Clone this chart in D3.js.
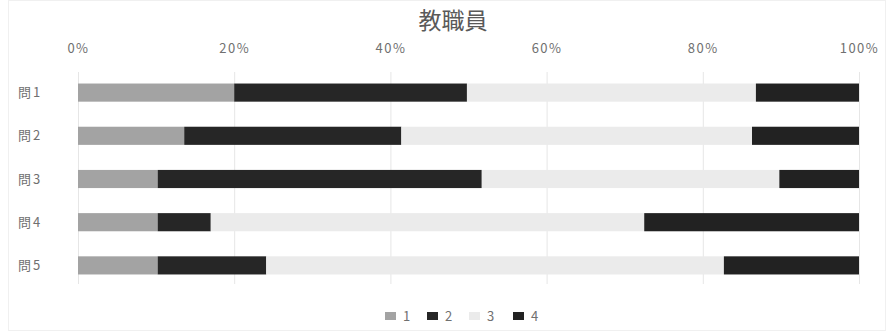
<!DOCTYPE html>
<html>
<head>
<meta charset="utf-8">
<script src="https://cdn.jsdelivr.net/npm/d3@7"></script>
<style>
  body { margin: 0; background: #fff; }
  svg { display: block; font-family: "Noto Sans CJK JP", "DejaVu Sans", sans-serif; }
</style>
</head>
<body>
<div class="chart"></div>
<script>
// categories and series (percent)
var categories = ["問1", "問2", "問3", "問4", "問5"];
var seriesNames = ["1", "2", "3", "4"];
var s1 = [20.0, 13.6, 10.2, 10.2, 10.2];
var s2 = [29.8, 27.8, 41.5, 6.8, 13.9];
var s3 = [37.0, 44.9, 38.1, 55.5, 58.6];
var s4 = [13.2, 13.7, 10.2, 27.5, 17.3];
var tickValues = [0, 0.2, 0.4, 0.6, 0.8, 1];
var colors = ["#a3a3a3", "#262626", "#ebebeb", "#222222"];

var width = 894, height = 331;
var margin = {top: 70, left: 78, right: 35, bottom: 70};

var rows = categories.map(function(c, i) {
  return {cat: c, "1": s1[i], "2": s2[i], "3": s3[i], "4": s4[i]};
});

var stack = d3.stack().keys(seriesNames).offset(d3.stackOffsetExpand);
var layers = stack(rows);

var x = d3.scaleLinear()
  .domain([0, 1])
  .range([margin.left, width - margin.right]);

var y = d3.scaleBand()
  .domain(categories)
  .range([71, 287])
  .paddingInner(0.58)
  .paddingOuter(0.29);

var svg = d3.select(".chart").append("svg")
  .attr("width", width)
  .attr("height", height);

// faint frame
svg.append("rect")
  .attr("x", 8.5).attr("y", 0.5)
  .attr("width", width - 17).attr("height", height - 1)
  .attr("fill", "none")
  .attr("stroke", "#f0f0f0");

// title
svg.append("text")
  .attr("x", 453)
  .attr("y", 29)
  .attr("text-anchor", "middle")
  .attr("font-size", 23)
  .attr("fill", "#595959")
  .text("教職員");

// gridlines
svg.append("g")
  .selectAll("line")
  .data(tickValues)
  .enter().append("line")
    .attr("x1", function(d) { return x(d) + 0.5; })
    .attr("x2", function(d) { return x(d) + 0.5; })
    .attr("y1", 72)
    .attr("y2", 284)
    .attr("stroke", "#e6e6e6");

// top axis
var xAxis = d3.axisTop(x)
  .tickValues(tickValues)
  .tickFormat(d3.format(".0%"))
  .tickSize(0)
  .tickPadding(0);

var gx = svg.append("g")
  .attr("transform", "translate(0,53)")
  .call(xAxis);
gx.select(".domain").remove();
gx.selectAll("text")
  .attr("font-size", 13)
  .attr("letter-spacing", 1.5)
  .attr("fill", "#707070")
  .attr("font-family", "\"Noto Sans CJK JP\", sans-serif");

// bars
svg.append("g")
  .selectAll("g")
  .data(layers)
  .enter().append("g")
    .attr("fill", function(d, i) { return colors[i]; })
  .selectAll("rect")
  .data(function(d) { return d; })
  .enter().append("rect")
    .attr("x", function(d) { return x(d[0]); })
    .attr("y", function(d) { return y(d.data.cat); })
    .attr("width", function(d) { return x(d[1]) - x(d[0]); })
    .attr("height", y.bandwidth());

// category labels
svg.append("g")
  .selectAll("text")
  .data(categories)
  .enter().append("text")
    .attr("x", 18)
    .attr("y", function(d) { return y(d) + y.bandwidth() / 2; })
    .attr("dy", "0.35em")
    .attr("font-size", 13)
    .attr("letter-spacing", 2)
    .attr("fill", "#707070")
    .text(function(d) { return d; });

// legend
var legendX = [385, 427, 469, 513];
var legend = svg.append("g")
  .selectAll("g")
  .data(seriesNames)
  .enter().append("g")
    .attr("transform", function(d, i) { return "translate(" + legendX[i] + ",316)"; });

legend.append("rect")
  .attr("x", 0)
  .attr("y", -4)
  .attr("width", 11)
  .attr("height", 8)
  .attr("fill", function(d, i) { return colors[i]; });

legend.append("text")
  .attr("x", 18)
  .attr("y", 0)
  .attr("dy", "0.35em")
  .attr("font-size", 13)
  .attr("fill", "#707070")
  .text(function(d) { return d; });
</script>
</body>
</html>
